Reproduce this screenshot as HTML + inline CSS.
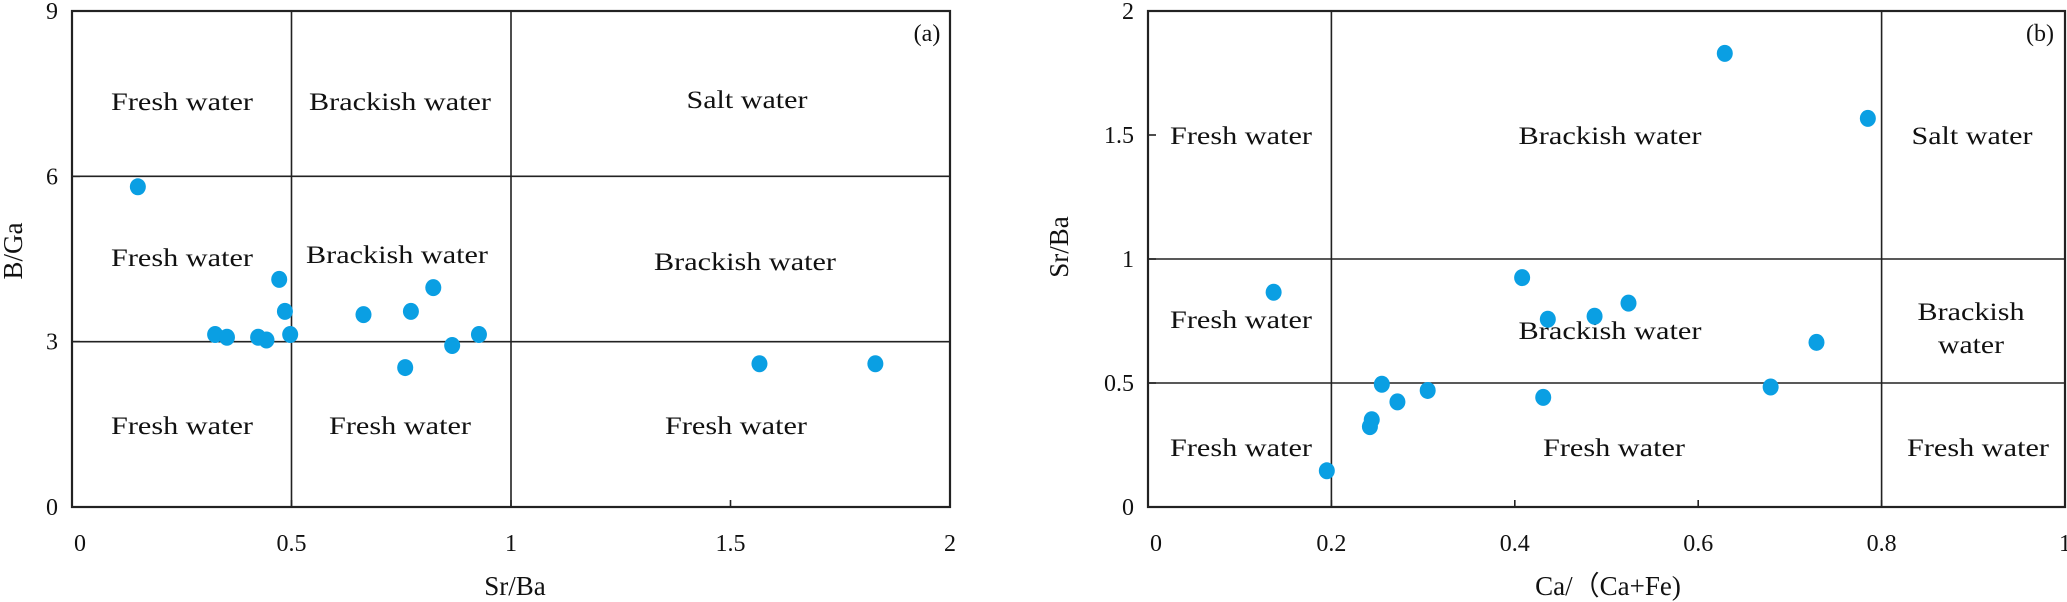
<!DOCTYPE html>
<html><head><meta charset="utf-8"><style>
html,body{margin:0;padding:0;background:#fff;width:2067px;height:602px;overflow:hidden}
svg text{font-family:"Liberation Serif",serif;fill:#111}
</style></head><body>
<svg id="chart" width="2067" height="602" viewBox="0 0 2067 602" xmlns="http://www.w3.org/2000/svg"></svg>
<script>
// Panel (a) data
const aSrBa = [0.150,0.326,0.353,0.424,0.443,0.472,0.485,0.497,0.664,0.759,0.772,0.823,0.866,0.927,1.566,1.83];
const aBGa  = [5.81,3.13,3.08,3.08,3.03,4.13,3.55,3.13,3.49,2.53,3.55,3.98,2.93,3.13,2.60,2.60];
const aXTicks = [0,0.5,1,1.5,2];
const aYTicks = [0,3,6,9];
// Panel (b) data
const bCa   = [0.137,0.195,0.242,0.244,0.255,0.272,0.305,0.408,0.431,0.436,0.487,0.524,0.629,0.679,0.729,0.785];
const bSrBa = [0.866,0.146,0.324,0.352,0.495,0.424,0.47,0.925,0.442,0.757,0.769,0.822,1.829,0.484,0.664,1.567];
const bXTicks = [0,0.2,0.4,0.6,0.8,1];
const bYTicks = [0,0.5,1,1.5,2];

const svg = document.getElementById('chart');
const NS = 'http://www.w3.org/2000/svg';
function el(tag, attrs, parent){const e=document.createElementNS(NS,tag);for(const k in attrs)e.setAttribute(k,attrs[k]);(parent||svg).appendChild(e);return e;}
function txt(str, attrs, parent){const t=el('text',attrs,parent);t.textContent=str;return t;}

const TOP=11, BOT=507;
const axA = {x:v=>72+v*439, y:v=>BOT-(v/9)*(BOT-TOP), x0:0,x1:2,y0:0,y1:9};
const axB = {x:v=>1148+v*917, y:v=>BOT-(v/2)*(BOT-TOP), x0:0,x1:1,y0:0,y1:2};

function panel(ax, name, vLines, hLines, xTicks, yTicks){
  const g = el('g',{});
  
  
  vLines.forEach(v=>{const l=el('line',{x1:ax.x(v),x2:ax.x(v),y1:ax.y(ax.y1),y2:ax.y(ax.y0),stroke:'#222','stroke-width':1.6},g);
    });
  hLines.forEach(v=>{const l=el('line',{x1:ax.x(ax.x0),x2:ax.x(ax.x1),y1:ax.y(v),y2:ax.y(v),stroke:'#222','stroke-width':1.6},g);
    });
  const r=el('rect',{x:ax.x(ax.x0),y:ax.y(ax.y1),width:ax.x(ax.x1)-ax.x(ax.x0),height:ax.y(ax.y0)-ax.y(ax.y1),fill:'none',stroke:'#222','stroke-width':2.2},g);
  
  xTicks.forEach(v=>{
    const tk=el('line',{x1:ax.x(v),x2:ax.x(v),y1:ax.y(ax.y0),y2:ax.y(ax.y0)-7,stroke:'#222','stroke-width':1.6},g);
    
    const t=txt(String(v),{x:ax.x(v)+(v===0?8:0),y:551,'text-anchor':'middle','font-size':24},g);
    
  });
  yTicks.forEach(v=>{
    const tk=el('line',{x1:ax.x(ax.x0),x2:ax.x(ax.x0)+8,y1:ax.y(v),y2:ax.y(v),stroke:'#222','stroke-width':1.6},g);
    
    const t=txt(String(v),{x:ax.x(ax.x0)-14,y:ax.y(v)+8,'text-anchor':'end','font-size':24},g);
    
  });
  return g;
}
function region(g, s, x, y, len){
  const t=txt(s,{x:x,y:y,'text-anchor':'middle','font-size':25,textLength:len,lengthAdjust:'spacingAndGlyphs'},g);
  
  
}
function dots(g, ax, xs, ys){
  xs.forEach((v,i)=>{
    const c=el('ellipse',{cx:ax.x(v),cy:ax.y(ys[i]),rx:8,ry:8.5,fill:'#0a9fe3'},g);
    
    
  });
}

// Panel a
const ga = panel(axA,'panel-a',[0.5,1],[3,6],aXTicks,aYTicks);
region(ga,'Fresh water',182,110,142);
region(ga,'Brackish water',400,110,182);
region(ga,'Salt water',747,108,121);
region(ga,'Fresh water',182,266,142);
region(ga,'Brackish water',397,263,182);
region(ga,'Brackish water',745,270,182);
region(ga,'Fresh water',182,434,142);
region(ga,'Fresh water',400,434,142);
region(ga,'Fresh water',736,434,142);
const pa=txt('(a)',{x:927,y:41,'text-anchor':'middle','font-size':24},ga);

dots(ga,axA,aSrBa,aBGa);
const ya=txt('B/Ga',{x:0,y:0,'text-anchor':'middle','font-size':27,transform:'translate(22,251) rotate(-90)'},ga);

const xa=txt('Sr/Ba',{x:515,y:595,'text-anchor':'middle','font-size':27},ga);


// Panel b
const gb = panel(axB,'panel-b',[0.2,0.8],[0.5,1],bXTicks,bYTicks);
region(gb,'Fresh water',1241,144,142);
region(gb,'Brackish water',1610,144,183);
region(gb,'Salt water',1972,144,121);
region(gb,'Fresh water',1241,328,142);
region(gb,'Brackish water',1610,339,183);
region(gb,'Brackish',1971,320,107);
region(gb,'water',1971,353,66);
region(gb,'Fresh water',1241,456,142);
region(gb,'Fresh water',1614,456,142);
region(gb,'Fresh water',1978,456,142);
const pb=txt('(b)',{x:2040,y:41,'text-anchor':'middle','font-size':24},gb);

dots(gb,axB,bCa,bSrBa);
const yb=txt('Sr/Ba',{x:0,y:0,'text-anchor':'middle','font-size':27,transform:'translate(1068,247) rotate(-90)'},gb);

const xb=txt('Ca/（Ca+Fe)',{x:1608,y:595,'text-anchor':'middle','font-size':27},gb);

</script>
</body></html>
